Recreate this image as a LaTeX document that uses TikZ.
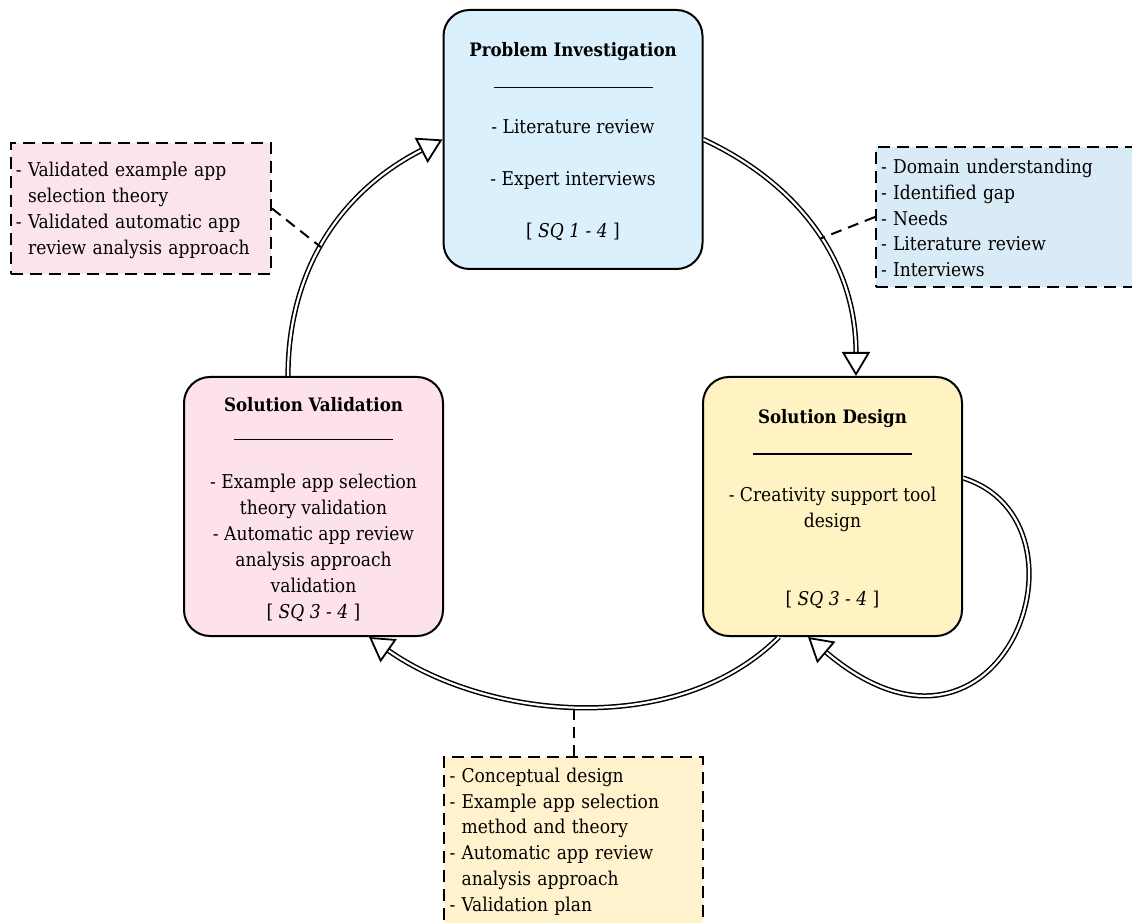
\documentclass[tikz,border=0pt]{standalone}
\usepackage{fontspec}
\setmainfont{DejaVu Serif Condensed}
\usetikzlibrary{arrows.meta,calc}

\definecolor{piFill}{HTML}{DAF1FD}
\definecolor{sdFill}{HTML}{FFF2C3}
\definecolor{svFill}{HTML}{FDE1EB}
\definecolor{pnoteFill}{HTML}{FCE4EC}
\definecolor{bnoteFill}{HTML}{DAEBF8}
\definecolor{ynoteFill}{HTML}{FFF2CC}

\newcommand{\hdrule}{\rule[5.5pt]{159pt}{1.5pt}}
\newcommand{\sq}[1]{[ \textit{SQ #1} ]}
\newcommand{\cont}{\phantom{- }}
\newcommand{\topgap}[1]{\rule{0pt}{#1}}
\newcommand{\heading}[1]{{\fontsize{18.5}{26}\selectfont\textbf{#1}}}

\begin{document}
\begin{tikzpicture}[x=1pt,y=1pt,
  stage/.style={draw, line width=2pt, rounded corners=26pt,
    minimum width=259pt, minimum height=259pt, inner sep=0pt,
    align=center, font=\fontsize{19}{26}\selectfont},
  note/.style={draw, line width=2pt, dash pattern=on 12pt off 7pt,
    text width=250pt, inner xsep=5pt, inner ysep=0pt, align=left,
    font=\fontsize{19}{25.8}\selectfont},
  flow/.style={double=white, double distance=2.2pt, line width=1.5pt,
    -{Triangle[fill=white, length=24pt, width=28pt, line width=1.8pt]}},
  link/.style={line width=2pt, dash pattern=on 11pt off 7pt}
]
\useasboundingbox (0,0) rectangle (1132,922);

% the three stages of the cycle
\node[stage, fill=piFill] (pi) at (573,782.5) {%
  \topgap{19pt}\heading{Problem Investigation}\\[11pt]
  \hdrule\\[14pt]
  - Literature review\\[26pt]
  - Expert interviews\\[26pt]
  \sq{1 - 4}};

\node[stage, fill=sdFill] (sd) at (832.5,415.5) {%
  \topgap{19pt}\heading{Solution Design}\\[11pt]
  \hdrule\\[15pt]
  - Creativity support tool\\
  design\\[52pt]
  \sq{3 - 4}};

\node[stage, fill=svFill] (sv) at (313.5,415.5) {%
  \topgap{21pt}\heading{Solution Validation}\\[8pt]
  \hdrule\\[17pt]
  - Example app selection\\
  theory validation\\
  - Automatic app review\\
  analysis approach\\
  validation\\
  \sq{3 - 4}};

% outcome notes
\node[note, fill=pnoteFill, minimum height=131pt] (pnote) at (141,713.5) {%
  \topgap{18.5pt}- Validated example app\\
  \cont selection theory\\
  - Validated automatic app\\
  \cont review analysis approach};

\node[note, fill=bnoteFill, minimum height=140pt] (bnote) at (1006,705) {%
  \topgap{16.5pt}- Domain understanding\\
  - Identified gap\\
  - Needs\\
  - Literature review\\
  - Interviews};

\node[note, fill=ynoteFill, minimum height=167pt, text width=248pt, inner xsep=5.5pt] (ynote) at (573.5,81.5) {%
  \topgap{16.5pt}- Conceptual design\\
  - Example app selection\\
  \cont method and theory\\
  - Automatic app review\\
  \cont analysis approach\\
  - Validation plan};

% cycle transitions
\draw[flow] ([xshift=-25.5pt]sv.north) to[out=90,in=207]
  coordinate[pos=0.45] (k1) (pi.west);
\draw[flow] (pi.east) to[out=-25,in=90]
  coordinate[pos=0.52] (k2) ([xshift=23.5pt]sd.north);
\draw[flow] ([xshift=-53.5pt]sd.south) to[out=-135,in=-35,looseness=0.9]
  coordinate[pos=0.5] (k3) ([xshift=55.5pt]sv.south);
\draw[flow] ([yshift=28.5pt]sd.east) .. controls +(140,-44) and +(195,-165)
  .. ([xshift=-24.5pt]sd.south);

% notes attached to the transitions
\draw[link] (pnote.east) -- (k1);
\draw[link] (bnote.west) -- (k2);
\draw[link] (ynote.north) -- (ynote.north |- k3);
\end{tikzpicture}
\end{document}
